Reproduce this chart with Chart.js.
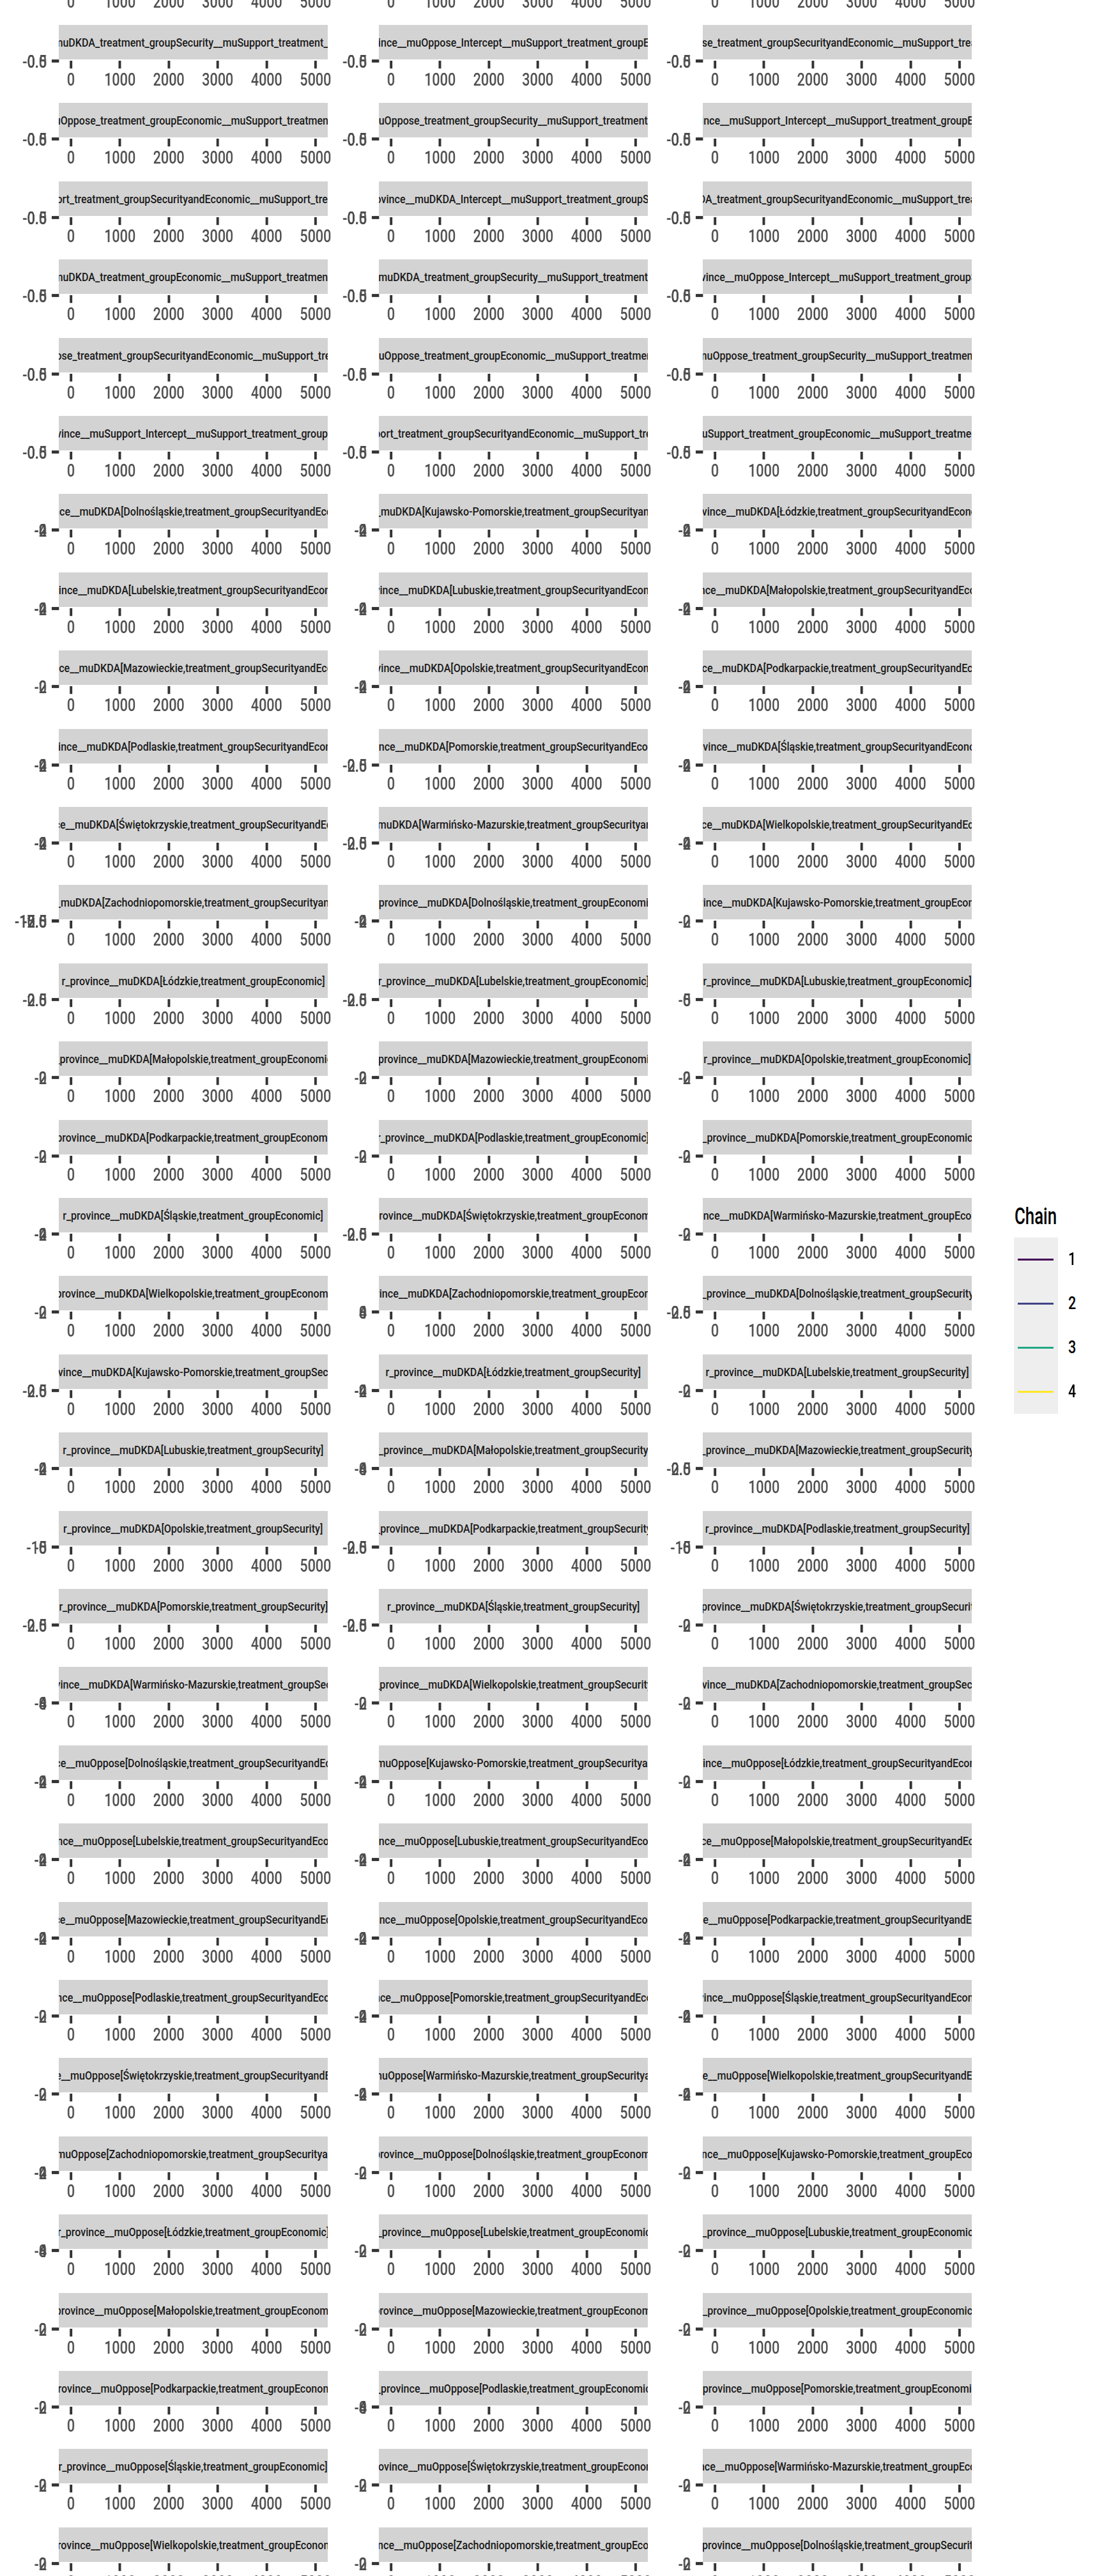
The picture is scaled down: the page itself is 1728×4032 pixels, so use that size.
<!DOCTYPE html>
<html><head><meta charset="utf-8">
<script src="https://cdn.jsdelivr.net/npm/chart.js@4.4.1/dist/chart.umd.min.js"></script>
<style>
html,body{margin:0;padding:0;background:#fff;overflow:hidden;}
#root{position:relative;width:1728px;height:4032px;overflow:hidden;background:#fff;}
.strip{position:absolute;background:#D3D3D3;display:flex;justify-content:center;align-items:center;overflow:hidden;white-space:nowrap;font-family:Roboto,'DejaVu Sans',sans-serif;font-weight:500;font-size:19px;color:#1A1A1A;}
.strip span{flex:none;display:inline-block;transform-origin:50% 50%;}
canvas.panel{position:absolute;transform-origin:0 0;}
.lg{position:absolute;font-family:Roboto,'DejaVu Sans',sans-serif;font-weight:500;white-space:nowrap;transform-origin:0 50%;color:#000;}
</style></head><body><div id="root"></div>
<script>
// ---- data ----
const chainLabels = ['1','2','3','4'];
const chainColors = ['#440154','#414487','#22A884','#FDE725'];
const xTicks = [0,1000,2000,3000,4000,5000];
const iterMin = 1, iterMax = 5000;

const corNames = [
 'cor_province__muDKDA_Intercept__muSupport_treatment_groupEconomic',
 'cor_province__muDKDA_treatment_groupSecurityandEconomic__muSupport_treatment_groupEconomic',
 'cor_province__muDKDA_treatment_groupEconomic__muSupport_treatment_groupEconomic',
 'cor_province__muDKDA_treatment_groupSecurity__muSupport_treatment_groupEconomic',
 'cor_province__muOppose_Intercept__muSupport_treatment_groupEconomic',
 'cor_province__muOppose_treatment_groupSecurityandEconomic__muSupport_treatment_groupEconomic',
 'cor_province__muOppose_treatment_groupEconomic__muSupport_treatment_groupEconomic',
 'cor_province__muOppose_treatment_groupSecurity__muSupport_treatment_groupEconomic',
 'cor_province__muSupport_Intercept__muSupport_treatment_groupEconomic',
 'cor_province__muSupport_treatment_groupSecurityandEconomic__muSupport_treatment_groupEconomic',
 'cor_province__muDKDA_Intercept__muSupport_treatment_groupSecurity',
 'cor_province__muDKDA_treatment_groupSecurityandEconomic__muSupport_treatment_groupSecurity',
 'cor_province__muDKDA_treatment_groupEconomic__muSupport_treatment_groupSecurity',
 'cor_province__muDKDA_treatment_groupSecurity__muSupport_treatment_groupSecurity',
 'cor_province__muOppose_Intercept__muSupport_treatment_groupSecurity',
 'cor_province__muOppose_treatment_groupSecurityandEconomic__muSupport_treatment_groupSecurity',
 'cor_province__muOppose_treatment_groupEconomic__muSupport_treatment_groupSecurity',
 'cor_province__muOppose_treatment_groupSecurity__muSupport_treatment_groupSecurity',
 'cor_province__muSupport_Intercept__muSupport_treatment_groupSecurity',
 'cor_province__muSupport_treatment_groupSecurityandEconomic__muSupport_treatment_groupSecurity',
 'cor_province__muSupport_treatment_groupEconomic__muSupport_treatment_groupSecurity'
];
const outcomes = ['muDKDA','muOppose'];
const treatments = ['SecurityandEconomic','Economic','Security'];
const provinces = ['Dolnośląskie','Kujawsko-Pomorskie','Łódzkie','Lubelskie','Lubuskie','Małopolskie','Mazowieckie','Opolskie','Podkarpackie','Podlaskie','Pomorskie','Śląskie','Świętokrzyskie','Warmińsko-Mazurskie','Wielkopolskie','Zachodniopomorskie'];

// y tick sets (panels have zero height, so all ticks of a panel coincide)
const ticksA = [-0.5, 0.0, 0.5];
const ticksB = [-4, -2, 0, 2];
const ticksZ = [-2, 0, 2];
const ticksC = [-2.5, 0.0, 2.5];
const ticksD = [-12.5, -10.0, -7.5, -5.0, -2.5, 0.0, 2.5];
const ticksE = [-5, 0, 5];
const ticksF = [-10, -5, 0, 5];
const ticksG = [-4, 0, 4, 8];
const ticksH = [0, 4, 8];
// one string per facet row (3 columns), first row is the partially visible row above
const rowTickKinds = ['AAA','AAA','AAA','AAA','AAA','AAA','AAA',
 'BBB','BBB','ZBB','BCB','BCB','DBZ','CCE','ZZZ','ZZZ','BCZ','ZHC','CBZ','BGC','FCF','CCZ','GZZ',
 'BBZ','BBB','BBB','ZBB','ZBB','BZZ','GZZ','ZZZ','ZGZ','ZZZ','ZZZ'];

// ---- layout ----
const FONT = "Roboto,'DejaVu Sans',sans-serif";
const colLeft = [92, 593, 1100];
const PANEL_W = 421, STRIP_H = 54, Y_AXIS_W = 92, PAD_TOP = 25, X_AXIS_H = 60, PAD_RIGHT = 30;
const ROW0 = 93, ROW_PITCH = 122.4;

// condensed look: measure and compress horizontally
const mctx = document.createElement('canvas').getContext('2d');
mctx.font = `500 28px ${FONT}`;
const S = 49 / mctx.measureText('1000').width;
mctx.font = `500 19px ${FONT}`;
const SS = 412 / mctx.measureText('r_province__muDKDA[Łódzkie,treatment_groupEconomic]').width;
mctx.font = `500 36px ${FONT}`;
const ST = 66 / mctx.measureText('Chain').width;

const tickSets = {A:ticksA,B:ticksB,Z:ticksZ,C:ticksC,D:ticksD,E:ticksE,F:ticksF,G:ticksG,H:ticksH};
const decSets = {A:1,B:0,Z:0,C:1,D:1,E:0,F:0,G:0,H:0};
const rNames = [];
outcomes.forEach(o => treatments.forEach(t => provinces.forEach(p => rNames.push(`r_province__${o}[${p},treatment_group${t}]`))));
const panelNames = corNames.concat(rNames);

const root = document.getElementById('root');
const span = iterMax - iterMin;
const xMin = iterMin - 0.05*span, xMax = iterMax + 0.05*span;
const tickFont = {family:FONT, size:28, weight:'500'};

rowTickKinds.forEach((kinds, r) => {
  const yLine = Math.round(ROW0 + ROW_PITCH*(r-1));
  for (let c = 0; c < 3; c++) {
    const idx = r*3 + c;
    const name = panelNames[idx];
    const t = tickSets[kinds[c]];
    const dec = decSets[kinds[c]];
    const cv = document.createElement('canvas');
    cv.className = 'panel';
    const W = Math.round((Y_AXIS_W + PANEL_W + PAD_RIGHT)/S), H = PAD_TOP + X_AXIS_H;
    const padR = W - (Y_AXIS_W + PANEL_W)/S;
    cv.width = W; cv.height = H;
    cv.style.left = (colLeft[c] - Y_AXIS_W) + 'px';
    cv.style.top = (yLine - PAD_TOP) + 'px';
    cv.style.width = W + 'px'; cv.style.height = H + 'px';
    cv.style.transform = `scaleX(${S})`;
    root.appendChild(cv);
    new Chart(cv, {
      type: 'line',
      data: { datasets: chainLabels.map((l,k) => ({label:l, data:[], borderColor:chainColors[k], borderWidth:1, pointRadius:0})) },
      options: {
        responsive:false, animation:false, events:[], devicePixelRatio:1,
        layout:{padding:{top:PAD_TOP, right:padR, left:0, bottom:0}},
        plugins:{legend:{display:false}, tooltip:{enabled:false}, title:{display:false}},
        scales:{
          x:{type:'linear', position:'bottom', min:xMin, max:xMax,
             afterBuildTicks: ax => { ax.ticks = xTicks.map(v => ({value:v})); },
             afterFit: ax => { ax.height = X_AXIS_H; },
             grid:{drawOnChartArea:false, drawTicks:true, tickLength:12, tickWidth:4/S, tickColor:'#333333'},
             border:{display:false},
             ticks:{autoSkip:false, maxRotation:0, minRotation:0, padding:3, color:'#4D4D4D', font:tickFont, callback: v => String(v)}},
          y:{type:'linear', position:'left', min:t[0], max:t[t.length-1],
             afterBuildTicks: ax => { ax.ticks = t.map(v => ({value:v})); },
             afterFit: ax => { ax.width = Y_AXIS_W/S; },
             grid:{drawOnChartArea:false, drawTicks:true, tickLength:11/S, tickWidth:4, tickColor:'#333333'},
             border:{display:false},
             ticks:{autoSkip:false, padding:8/S, labelOffset:4, color:'#4D4D4D', font:tickFont, callback: v => Number(v).toFixed(dec)}}
        }
      }
    });
    const st = document.createElement('div');
    st.className = 'strip';
    st.style.left = colLeft[c] + 'px';
    st.style.top = (yLine - STRIP_H) + 'px';
    st.style.width = PANEL_W + 'px';
    st.style.height = STRIP_H + 'px';
    const sp = document.createElement('span');
    sp.textContent = name;
    sp.style.transform = `scaleX(${SS})`;
    st.appendChild(sp);
    root.appendChild(st);
  }
});

// ---- legend ----
function lgDiv(text, left, top, size, sx){ const d = document.createElement('div'); d.className='lg'; d.textContent=text; d.style.left=left+'px'; d.style.top=top+'px'; d.style.fontSize=size+'px'; d.style.lineHeight=size+'px'; d.style.transform=`scaleX(${sx})`; root.appendChild(d); return d; }
lgDiv('Chain', 1588, 1886, 36, ST);
const keyBox = document.createElement('div');
keyBox.style.cssText = 'position:absolute;left:1587px;top:1937px;width:69px;height:276px;background:#EEEEEE;';
root.appendChild(keyBox);
chainLabels.forEach((l,k) => {
  const cy = 1971 + 69*k;
  const ln = document.createElement('div');
  ln.style.cssText = `position:absolute;left:1593px;top:${cy-1.5}px;width:56px;height:3px;background:${chainColors[k]};`;
  root.appendChild(ln);
  lgDiv(l, 1672, Math.round(cy - 14), 28, S);
});
</script></body></html>
